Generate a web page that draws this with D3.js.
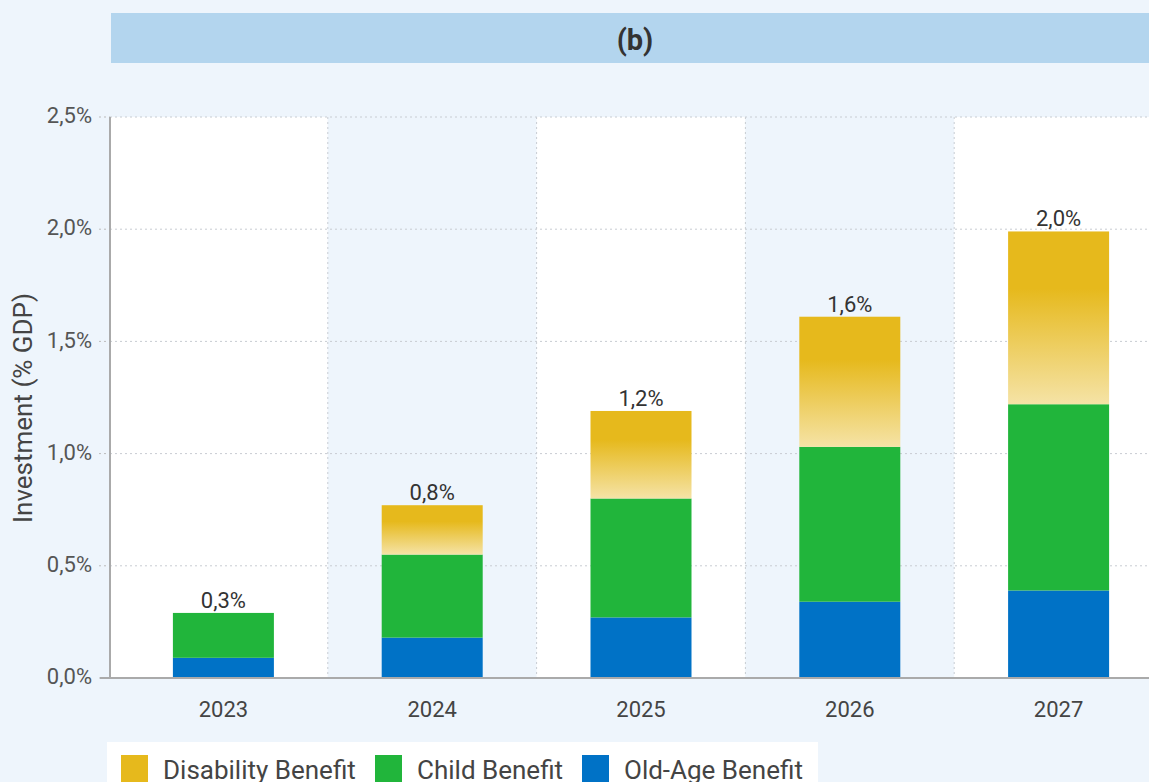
<!DOCTYPE html>
<html><head><meta charset="utf-8">
<script src="https://cdn.jsdelivr.net/npm/d3@7"></script>
<style>html,body{margin:0;padding:0;background:#eef5fc;overflow:hidden}svg{display:block}</style>
</head><body>
<svg id="c" width="1149" height="782"></svg>
<script>
const years = ["2023","2024","2025","2026","2027"];
const oldAge = [0.09, 0.18, 0.27, 0.34, 0.39];
const child = [0.20, 0.37, 0.53, 0.69, 0.83];
const disability = [0.00, 0.22, 0.39, 0.58, 0.77];
const totalLabels = ["0,3%","0,8%","1,2%","1,6%","2,0%"];
const yTicks = [0, 0.5, 1.0, 1.5, 2.0, 2.5];
const seriesNames = ["Disability Benefit","Child Benefit","Old-Age Benefit"];
const colors = {"Old-Age Benefit":"#0072c6","Child Benefit":"#21b53b","Disability Benefit":"#e6b91c"};

(function(){
const svg = d3.select("#c");
const W = 1149, H = 782;
const axisX = 110, plotTop = 117, plotBottom = 678;
const font = "Roboto, 'Noto Sans', sans-serif";

svg.append("rect").attr("width",W).attr("height",H).attr("fill","#eef5fc");
// title bar
svg.append("rect").attr("x",111).attr("y",13).attr("width",W-111+10).attr("height",50).attr("fill","#b3d5ee");
svg.append("text").attr("x",635).attr("y",50).attr("text-anchor","middle")
  .attr("font-family",font).attr("font-weight","bold").attr("font-size",29).attr("fill","#333").text("(b)");

const x = d3.scaleBand().domain(years).range([119, 1163]).paddingInner(0).paddingOuter(0);
const y = d3.scaleLinear().domain([0, 2.5]).range([plotBottom, plotTop]);
const barW = 101;

const defs = svg.append("defs");
const grad = defs.append("linearGradient").attr("id","yg").attr("x1",0).attr("y1",0).attr("x2",0).attr("y2",1);
grad.append("stop").attr("offset","0").attr("stop-color","#e6b91c");
grad.append("stop").attr("offset","0.33").attr("stop-color","#e6b91c");
grad.append("stop").attr("offset","1").attr("stop-color","#f5e3a6");

// bands
years.forEach((yr,i)=>{
  const x0 = i===0 ? axisX : x(yr);
  const x1 = x(yr)+x.bandwidth();
  svg.append("rect").attr("x",x0).attr("y",plotTop).attr("width",x1-x0).attr("height",plotBottom-plotTop)
    .attr("fill", i%2===0 ? "#ffffff" : "#eef5fc");
});
// vertical dotted separators
years.slice(1).forEach(yr=>{
  svg.append("line").attr("x1",x(yr)).attr("x2",x(yr)).attr("y1",plotTop).attr("y2",plotBottom)
    .attr("stroke","#c8ccd2").attr("stroke-width",1).attr("stroke-dasharray","2,3");
});
// gridlines + ticks
yTicks.forEach(t=>{
  if(t>0) svg.append("line").attr("x1",axisX).attr("x2",W).attr("y1",y(t)).attr("y2",y(t))
    .attr("stroke","#c8ccd2").attr("stroke-width",1).attr("stroke-dasharray","2,3");
  svg.append("line").attr("x1",99).attr("x2",axisX).attr("y1",y(t)).attr("y2",y(t))
    .attr("stroke","#bbb").attr("stroke-width",1).attr("stroke-dasharray","2,3");
});

// y axis labels via d3 axis
const yAxis = d3.axisLeft(y).tickValues(yTicks).tickSize(0).tickPadding(0)
  .tickFormat(d=>d3.format(".1f")(d).replace(".",",")+"%");
const ga = svg.append("g").attr("transform",`translate(92,-2)`).call(yAxis);
ga.select(".domain").remove();
ga.selectAll("text").attr("font-family",font).attr("font-size",22).attr("fill","#555").attr("dy","0.35em");

// x axis labels
const xAxis = d3.axisBottom(x).tickSize(0).tickPadding(0);
const gx = svg.append("g").attr("transform",`translate(0,${plotBottom+39})`).call(xAxis);
gx.select(".domain").remove();
gx.selectAll("text").attr("font-family",font).attr("font-size",22).attr("fill","#444").attr("dy","0");

// stacked bars
const rows = years.map((yr,i)=>({year:yr,"Old-Age Benefit":oldAge[i],"Child Benefit":child[i],"Disability Benefit":disability[i]}));
const stack = d3.stack().keys(["Old-Age Benefit","Child Benefit","Disability Benefit"])(rows);
stack.forEach(layer=>{
  svg.append("g").selectAll("rect").data(layer.filter(d=>d[1]-d[0]>0)).join("rect")
    .attr("x",d=>x(d.data.year)+x.bandwidth()/2-barW/2)
    .attr("width",barW)
    .attr("y",d=>y(d[1]))
    .attr("height",d=>y(d[0])-y(d[1]))
    .attr("fill", layer.key==="Disability Benefit" ? "url(#yg)" : colors[layer.key]);
});
// total labels
years.forEach((yr,i)=>{
  const tot = oldAge[i]+child[i]+disability[i];
  svg.append("text").attr("x",x(yr)+x.bandwidth()/2).attr("y",y(tot)-5).attr("text-anchor","middle")
    .attr("font-family",font).attr("font-size",22).attr("fill","#333").text(totalLabels[i]);
});

// axes lines
svg.append("line").attr("x1",axisX).attr("x2",axisX).attr("y1",plotTop).attr("y2",plotBottom).attr("stroke","#aaa").attr("stroke-width",2);
svg.append("line").attr("x1",100).attr("x2",W).attr("y1",plotBottom).attr("y2",plotBottom).attr("stroke","#aaa").attr("stroke-width",2);

// y title
svg.append("text").attr("transform",`translate(32,408) rotate(-90)`).attr("text-anchor","middle")
  .attr("font-family",font).attr("font-size",26).attr("fill","#444").text("Investment (% GDP)");

// legend
svg.append("rect").attr("x",107).attr("y",742).attr("width",711).attr("height",50).attr("fill","#fff");
const legX = [121, 375, 582];
seriesNames.forEach((n,i)=>{
  svg.append("rect").attr("x",legX[i]).attr("y",755).attr("width",27).attr("height",30).attr("fill",colors[n]);
  svg.append("text").attr("x",legX[i]+42).attr("y",779).attr("font-family",font).attr("font-size",26)
    .attr("fill","#444").text(n);
});
})();
</script>
</body></html>
